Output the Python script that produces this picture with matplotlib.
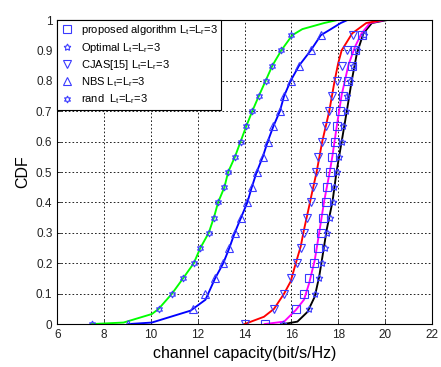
import numpy as np
import matplotlib
matplotlib.use('Agg')
import matplotlib.pyplot as plt

plt.rcParams['font.family'] = ['Liberation Sans', 'DejaVu Sans']
plt.rcParams['mathtext.fontset'] = 'custom'
plt.rcParams['mathtext.rm'] = 'Liberation Sans'
plt.rcParams['mathtext.it'] = 'Liberation Sans'

# marker levels (CDF every 0.05)
marker_cdf = np.arange(0, 1.0, 0.05)

proposed_mk = [14.86, 16.19, 16.54, 16.77, 16.98, 17.15, 17.25, 17.34, 17.47, 17.51,
               17.65, 17.73, 17.87, 17.97, 18.10, 18.22, 18.44, 18.58, 18.72, 19.01]
optimal_mk = [15.66, 16.75, 17.01, 17.20, 17.33, 17.45, 17.54, 17.65, 17.78, 17.84,
              17.95, 18.05, 18.15, 18.22, 18.32, 18.40, 18.52, 18.65, 18.80, 19.12]
cjas_mk = [14.04, 15.26, 15.69, 16.00, 16.26, 16.42, 16.53, 16.67, 16.82, 16.94,
           17.05, 17.15, 17.32, 17.46, 17.60, 17.73, 17.94, 18.15, 18.37, 18.65]
nbs_mk = [9.03, 11.81, 12.31, 12.74, 13.09, 13.35, 13.58, 13.85, 14.12, 14.31,
          14.52, 14.78, 14.99, 15.23, 15.51, 15.69, 15.97, 16.33, 16.83, 17.28]
rand_mk = [7.47, 10.33, 10.90, 11.37, 11.83, 12.11, 12.47, 12.69, 12.87, 13.14,
           13.30, 13.59, 13.83, 14.07, 14.33, 14.61, 14.90, 15.19, 15.57, 16.00]

# curves
green_x = [7.47, 8.83, 10.04, 10.33, 10.90, 11.37, 11.83, 12.11, 12.47, 12.69, 12.87, 13.14, 13.30,
           13.59, 13.83, 14.07, 14.33, 14.61, 14.90, 15.19, 15.57, 16.04, 16.47, 17.40, 17.97]
green_y = [0, 0.005, 0.033, 0.05, 0.10, 0.15, 0.20, 0.25, 0.30, 0.35, 0.40, 0.45, 0.50,
           0.55, 0.60, 0.65, 0.70, 0.75, 0.80, 0.85, 0.90, 0.95, 0.97, 0.99, 1.0]
blue_x = [9.04, 10.04, 11.69, 12.33, 12.74, 13.09, 13.35, 13.58, 13.85, 14.12, 14.31, 14.52, 14.78,
          14.99, 15.23, 15.51, 15.69, 15.97, 16.33, 16.83, 17.26, 17.69, 18.11, 18.40, 21.10]
blue_y = [0, 0.005, 0.044, 0.08, 0.15, 0.20, 0.25, 0.30, 0.35, 0.40, 0.45, 0.50, 0.55,
          0.60, 0.65, 0.70, 0.75, 0.80, 0.85, 0.90, 0.95, 0.97, 0.99, 1.0, 1.0]
red_x = [14.0, 14.83, 15.26, 15.69, 15.97, 16.19, 16.40, 16.54, 16.76, 16.85, 17.08, 17.32, 17.62,
         17.85, 18.00, 18.15, 18.60, 19.20, 19.90, 20.90]
red_y = [0, 0.024, 0.05, 0.10, 0.14, 0.20, 0.255, 0.31, 0.387, 0.42, 0.50, 0.60, 0.70,
         0.80, 0.857, 0.90, 0.956, 0.99, 1.0, 1.0]
mag_x = [14.86, 15.69, 16.19, 16.54, 16.76, 17.0, 17.19, 17.40, 17.64, 17.75, 17.95, 18.15, 18.44,
         18.72, 19.0, 19.36, 20.0]
mag_y = [0, 0.008, 0.046, 0.08, 0.134, 0.21, 0.30, 0.403, 0.50, 0.55, 0.655, 0.753, 0.852,
         0.912, 0.956, 0.99, 1.0]
blk_x = [15.66, 16.26, 16.69, 17.0, 17.19, 17.33, 17.51, 17.76, 17.93, 18.15, 18.37, 18.58, 18.80,
         19.08, 19.44, 20.10]
blk_y = [0, 0.008, 0.04, 0.09, 0.156, 0.222, 0.31, 0.403, 0.50, 0.60, 0.70, 0.80, 0.89,
         0.956, 0.99, 1.0]

sub = r'L$_{t}$=L$_{r}$=3'
labels = ['proposed algorithm ' + sub, 'Optimal ' + sub, 'CJAS[15] ' + sub,
          'NBS ' + sub, 'rand  ' + sub]

fig = plt.figure(figsize=(4.41, 3.67), dpi=100)
ax = fig.add_axes([0.130, 0.117, 0.849, 0.8285])

lw = 1.35
ax.plot(blk_x, blk_y, color='k', lw=lw)
ax.plot(mag_x, mag_y, color='#ff00ff', lw=lw)
ax.plot(green_x, green_y, color='#00ff00', lw=lw)
ax.plot(blue_x, blue_y, color='#0000ff', lw=lw)
ax.plot(red_x, red_y, color='#ff0000', lw=lw)

mc = '#3a3aff'
mk = dict(linestyle='', color=mc, markerfacecolor='none', markeredgewidth=0.8)
ax.plot(proposed_mk, marker_cdf, marker='s', markersize=5.5, label=labels[0], **mk)
ax.plot(optimal_mk, marker_cdf, marker=(5, 1, 0), markersize=5, label=labels[1], **mk)
ax.plot(cjas_mk, marker_cdf, marker='v', markersize=6, label=labels[2], **mk)
ax.plot(nbs_mk, marker_cdf, marker='^', markersize=6, label=labels[3], **mk)
ax.plot(rand_mk, marker_cdf, marker=(6, 1, 0), markersize=5, label=labels[4], **mk)

ax.set_xlim(6, 22)
ax.set_ylim(0, 1)
ax.set_xticks(np.arange(6, 23, 2))
ax.set_yticks(np.arange(0, 1.01, 0.1))
ax.set_yticklabels(['0', '0.1', '0.2', '0.3', '0.4', '0.5', '0.6', '0.7', '0.8', '0.9', '1'])
ax.tick_params(direction='in', length=3, labelsize=8.5, colors='#222222', width=0.6)
ax.grid(True, color='k', linestyle=(0, (2, 2.5)), linewidth=0.6)
for s in ax.spines.values():
    s.set_linewidth(0.8)

ax.set_xlabel('channel capacity(bit/s/Hz)', fontsize=11.5, labelpad=4)
ax.set_ylabel('CDF', fontsize=11.5, labelpad=4)

leg = ax.legend(loc='upper left', fontsize=8, frameon=True, fancybox=False,
                edgecolor='k', framealpha=1, borderaxespad=0, handlelength=1.2,
                handletextpad=0.6, labelspacing=0.3, borderpad=0.3)
leg.get_frame().set_linewidth(0.8)

fig.savefig('out.png', dpi=100)
